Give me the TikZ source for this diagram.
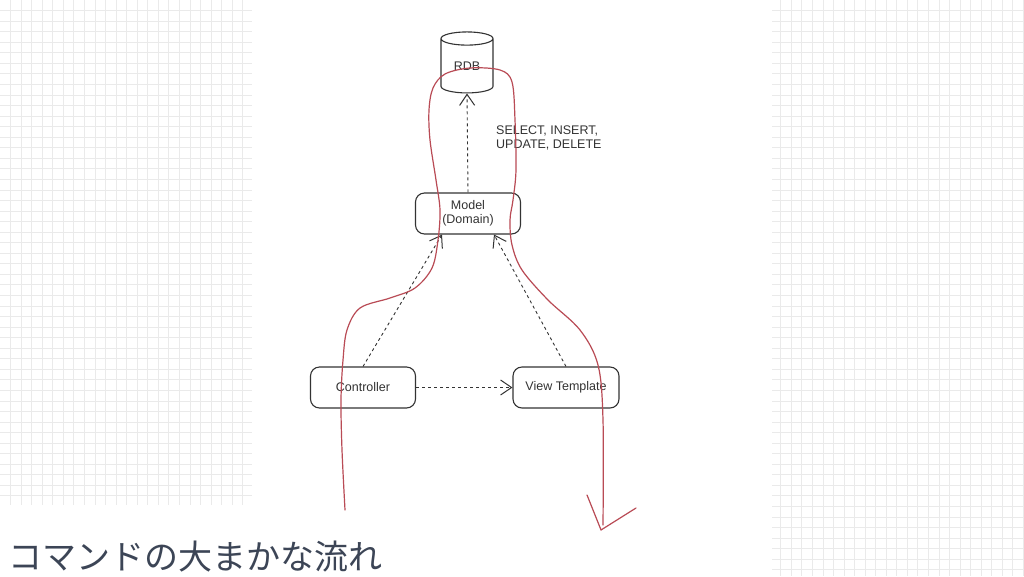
\documentclass[tikz,border=0pt]{standalone}
\usepackage{fontspec}
\setmainfont{Liberation Sans}
\newfontfamily\cjk{Noto Sans CJK JP}
\usetikzlibrary{shapes.geometric,arrows.meta}
\definecolor{gridc}{RGB}{234,234,234}
\definecolor{ink}{RGB}{51,51,51}
\definecolor{redpen}{RGB}{185,75,85}
\definecolor{titlec}{RGB}{60,69,86}
\tikzset{
  gridline/.style={draw=gridc, line width=0.8pt},
  box/.style={draw=ink, line width=1.1pt, rounded corners=9pt, align=center, text=ink,
    font=\fontsize{12.5}{13.5}\selectfont, inner sep=0pt},
  dep/.style={draw=ink, line width=0.9pt, dash pattern=on 3pt off 3pt,
    -{Straight Barb[length=11pt,width=15pt,line width=1pt]}},
  redline/.style={draw=redpen, line width=1.2pt, line cap=round, line join=round},
  lbl/.style={text=ink, font=\fontsize{12.5}{13.5}\selectfont, align=left, inner sep=0pt}
}
\begin{document}
\begin{tikzpicture}[x=1pt,y=-1pt]
\useasboundingbox (0,0) rectangle (1024,576);
\fill[white] (0,0) rectangle (1024,576);
% grid left
\foreach \i in {1,...,23} {\draw[gridline] (\i*10.55,0) -- (\i*10.55,505);}
\foreach \j in {1,...,47} {\draw[gridline] (0,\j*10.55) -- (252,\j*10.55);}
% grid right
\foreach \i in {74,...,97} {\draw[gridline] (\i*10.55,0) -- (\i*10.55,576);}
\foreach \j in {1,...,54} {\draw[gridline] (772,\j*10.55) -- (1024,\j*10.55);}

% nodes
\node[cylinder, shape border rotate=90, draw=ink, line width=1.1pt, text=ink,
  minimum width=52pt, minimum height=61pt, aspect=0.5, inner sep=0pt,
  font=\fontsize{12.5}{13.5}\selectfont] (rdb) at (467,66) {\raisebox{-4pt}{RDB}};
\node[box, minimum width=105pt, minimum height=41pt] (model) at (468,213.5) {Model\\(Domain)};
\node[box, minimum width=105pt, minimum height=41pt] (ctrl) at (363,387.5) {Controller};
\node[box, minimum width=106pt, minimum height=41pt] (view) at (566,387.5) {View Template};
\node[lbl, anchor=north west] (sql) at (496,126) {SELECT, INSERT,\\UPDATE, DELETE};

% connectors
\draw[dep] (model.north) -- (rdb.south);
\draw[dep] (ctrl.east) -- (view.west);
\draw[dep] (ctrl.north) -- (model.south west -| 442,0);
\draw[dep] (view.north) -- (model.south east -| 494,0);

% red pen annotation
\draw[redline] plot[smooth, tension=0.55] coordinates {
 (345,510) (342,450) (341,400) (343,360) (347,330) (360,308) (390,298) (415,288)
 (432,268) (438,240) (440,210) (436,180) (430,140) (429,110) (433,88) (445,74)
 (470,68) (500,70) (512,82) (515,120) (516,170) (513,200) (510,220) (512,245)
 (522,270) (548,300) (580,330) (598,365) (603,420) (603,525)};
\draw[redline] (587,495) -- (601,530) -- (636,508);

% title
\node[anchor=base west, inner sep=0pt, text=titlec, font=\cjk\fontsize{34}{40}\selectfont] (title) at (8,569) {コマンドの大まかな流れ};
\end{tikzpicture}
\end{document}
